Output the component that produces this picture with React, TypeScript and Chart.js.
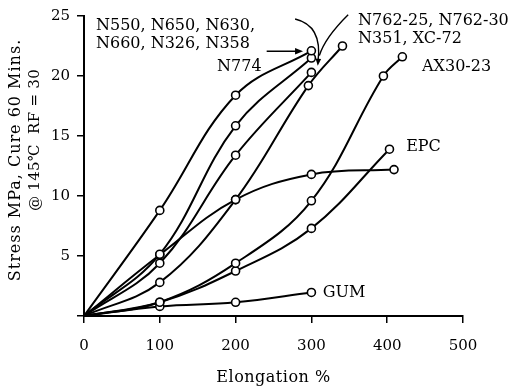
import React, { useEffect, useRef } from 'react';
import { Chart, registerables } from 'chart.js';

Chart.register(...registerables);

// Stress (MPa) against elongation (%) for each compound, cure 60 min @ 145 °C
const topCurveX = [0, 100, 200, 300];
const topCurveY = [0, 8.8, 18.4, 22.1];

const secondCurveX = [0, 100, 200, 300];
const secondCurveY = [0, 5.15, 15.85, 21.5];

const thirdCurveX = [0, 100, 200, 300];
const thirdCurveY = [0, 4.4, 13.4, 20.3];

const n351X = [0, 100, 200, 296, 341];
const n351Y = [0, 2.8, 9.7, 19.2, 22.5];

const plateauX = [0, 100, 200, 300, 409];
const plateauY = [0, 5.1, 9.7, 11.8, 12.2];

const ax3023X = [0, 100, 200, 300, 395, 420];
const ax3023Y = [0, 1.15, 4.4, 9.6, 20.0, 21.6];

const epcX = [0, 100, 200, 300, 403];
const epcY = [0, 1.15, 3.75, 7.3, 13.9];

const gumX = [0, 100, 200, 300];
const gumY = [0, 0.8, 1.14, 1.96];

const xTicks = [0, 100, 200, 300, 400, 500];
const yTicks = [5, 10, 15, 20, 25];

// Curve labels, anchored in data units (left edge, vertical middle)
const labelTexts = [
  'N550, N650, N630,',
  'N660, N326, N358',
  'N774',
  'N762-25, N762-30',
  'N351, XC-72',
  'AX30-23',
  'EPC',
  'GUM',
];
const labelX = [15.8, 15.8, 175.5, 361.5, 361.5, 446, 425, 315];
const labelY = [24.2, 22.7, 20.8, 24.6, 23.1, 20.8, 14.1, 1.96];

const FONT = '"DejaVu Serif", "Liberation Serif", serif';

const toPoints = (xs: number[], ys: number[]) => xs.map((x, i) => ({ x, y: ys[i] }));

const curve = (label: string, xs: number[], ys: number[]) => ({
  label,
  data: toPoints(xs, ys),
  borderColor: '#000',
  borderWidth: 2,
  tension: 0.38,
  pointRadius: (c: any) => (c.dataIndex === 0 ? 0 : 4),
  pointBorderColor: '#000',
  pointBackgroundColor: '#fff',
  pointBorderWidth: 1.6,
  fill: false,
});

function arrowHead(ctx: CanvasRenderingContext2D, x: number, y: number, angle: number, size: number) {
  ctx.save();
  ctx.translate(x, y);
  ctx.rotate(angle);
  ctx.beginPath();
  ctx.moveTo(0, 0);
  ctx.lineTo(-size, -size * 0.4);
  ctx.lineTo(-size, size * 0.4);
  ctx.closePath();
  ctx.fill();
  ctx.restore();
}

const annotations = {
  id: 'annotations',
  afterDatasetsDraw(chart: any) {
    const { ctx, chartArea } = chart;
    const xs = chart.scales.x;
    const ys = chart.scales.y;
    const px = (v: number) => xs.getPixelForValue(v);
    const py = (v: number) => ys.getPixelForValue(v);

    ctx.save();
    ctx.fillStyle = '#000';
    ctx.strokeStyle = '#000';
    ctx.font = `16px ${FONT}`;
    ctx.textAlign = 'left';
    ctx.textBaseline = 'middle';
    labelTexts.forEach((t, i) => ctx.fillText(t, px(labelX[i]), py(labelY[i])));

    // arrow pointing at the N550 group end point
    ctx.lineWidth = 1.5;
    ctx.beginPath();
    ctx.moveTo(px(241), py(22.06));
    ctx.lineTo(px(284), py(22.06));
    ctx.stroke();
    arrowHead(ctx, px(289), py(22.06), 0, 8);

    // leaders from the N762 label
    ctx.lineWidth = 1.4;
    ctx.beginPath();
    ctx.moveTo(px(278.5), py(24.75));
    ctx.quadraticCurveTo(px(315), py(24.2), px(308.7), py(21.2));
    ctx.stroke();
    arrowHead(ctx, px(308.4), py(20.85), Math.PI / 2 + 0.08, 7);

    ctx.beginPath();
    ctx.moveTo(px(348.5), py(25.1));
    ctx.quadraticCurveTo(px(318), py(23.2), px(310.5), py(21.7));
    ctx.stroke();

    // axis titles
    ctx.font = `16px ${FONT}`;
    ctx.textAlign = 'center';
    ctx.letterSpacing = '0.5px';
    ctx.fillText('Elongation %', (chartArea.left + chartArea.right) / 2, chartArea.bottom + 62);

    ctx.save();
    ctx.letterSpacing = '1px';
    ctx.translate(16, 160);
    ctx.rotate(-Math.PI / 2);
    ctx.fillText('Stress MPa, Cure 60 Mins.', 0, 0);
    ctx.restore();

    ctx.save();
    ctx.letterSpacing = '0.3px';
    ctx.font = `15px ${FONT}`;
    ctx.translate(35, 140);
    ctx.rotate(-Math.PI / 2);
    ctx.fillText('@ 145\u2103  RF = 30', 0, 0);
    ctx.restore();

    ctx.restore();
  },
};

export default function App() {
  const canvasRef = useRef<HTMLCanvasElement | null>(null);

  useEffect(() => {
    document.body.style.margin = '0';
    const canvas = canvasRef.current;
    if (!canvas) return;
    const chart = new Chart(canvas, {
      type: 'line',
      data: {
        datasets: [
          curve('N550 group', topCurveX, topCurveY),
          curve('N774', secondCurveX, secondCurveY),
          curve('N762', thirdCurveX, thirdCurveY),
          curve('N351, XC-72', n351X, n351Y),
          curve('plateau', plateauX, plateauY),
          curve('AX30-23', ax3023X, ax3023Y),
          curve('EPC', epcX, epcY),
          curve('GUM', gumX, gumY),
        ],
      },
      options: {
        responsive: false,
        animation: false,
        devicePixelRatio: 1,
        layout: { padding: { top: 10, right: 53, left: 0, bottom: 0 } },
        plugins: { legend: { display: false }, tooltip: { enabled: false } },
        scales: {
          x: {
            type: 'linear',
            min: 0,
            max: 500,
            afterBuildTicks: (s: any) => {
              s.ticks = xTicks.map((v) => ({ value: v }));
            },
            afterFit: (s: any) => {
              s.height = 76;
            },
            ticks: { color: '#000', font: { family: FONT, size: 15 }, padding: 14, maxRotation: 0 },
            grid: { drawOnChartArea: false, drawTicks: true, tickLength: 7, color: '#000', lineWidth: 1.5 },
            border: { display: true, color: '#000', width: 2 },
          },
          y: {
            type: 'linear',
            min: 0,
            max: 25,
            afterBuildTicks: (s: any) => {
              s.ticks = [0, ...yTicks].map((v) => ({ value: v }));
            },
            afterFit: (s: any) => {
              s.width = 84;
            },
            ticks: {
              color: '#000',
              font: { family: FONT, size: 15 },
              padding: 7,
              callback: (v: any) => (v === 0 ? '' : String(v)),
            },
            grid: { drawOnChartArea: false, drawTicks: true, tickLength: 7, color: '#000', lineWidth: 1.5 },
            border: { display: true, color: '#000', width: 2 },
          },
        },
      },
      plugins: [annotations],
    });
    return () => chart.destroy();
  }, []);

  return (
    <div style={{ position: 'absolute', left: 0, top: 0, width: 516, height: 392 }}>
      <canvas ref={canvasRef} width={516} height={392} />
    </div>
  );
}
